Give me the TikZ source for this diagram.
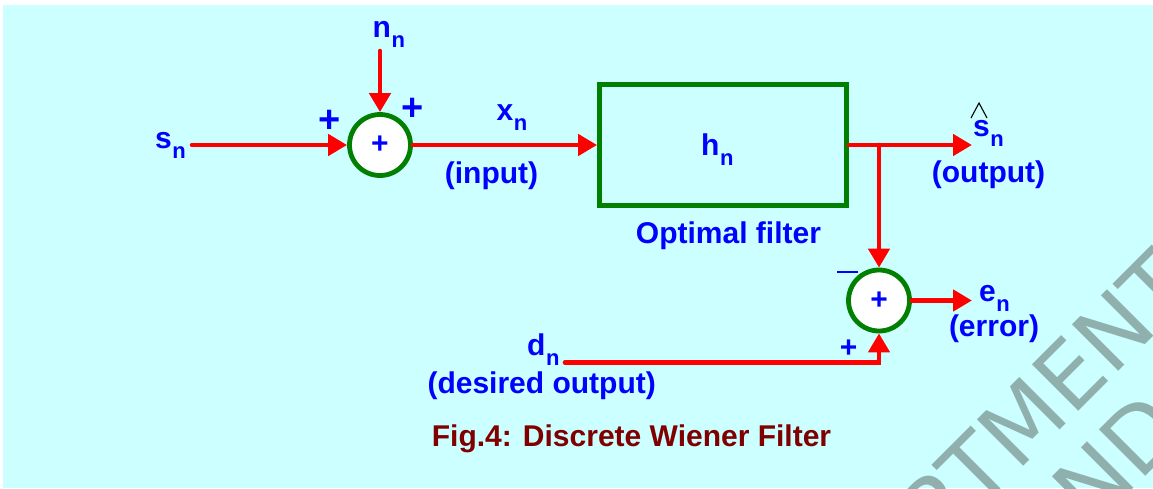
\documentclass[tikz,border=0pt]{standalone}
\usepackage{fontspec}
\setmainfont{Liberation Sans}
\newfontfamily\wmfont{DejaVu Sans}
\usetikzlibrary{arrows.meta}
\definecolor{bg}{HTML}{CCFFFF}
\definecolor{lblue}{HTML}{0000FF}
\definecolor{lred}{HTML}{FF0000}
\definecolor{lgreen}{HTML}{007F00}
\definecolor{capred}{HTML}{800000}
\definecolor{wmcol}{HTML}{90B0AE}
\newcommand\fs[1]{\fontsize{#1}{#1}\selectfont}
\newcommand\subn{\hspace{0.5pt}\raisebox{-10pt}{\fs{22}n}}
\begin{document}
\begin{tikzpicture}[x=1pt,y=-1pt,
  lbl/.style={text=lblue, font=\fs{30}\bfseries, inner sep=0pt, anchor=base},
  lblw/.style={lbl, anchor=base west},
  signode/.style={text=lblue, font=\fs{#1}\bfseries, inner sep=0pt},
  sumnode/.style={circle, draw=lgreen, line width=4.8pt, fill=white, minimum size=61pt, inner sep=0pt, text=lblue, font=\fs{30}\bfseries},
  boxnode/.style={draw=lgreen, line width=4.8pt, minimum width=247pt, minimum height=121pt, inner sep=0pt},
  sig/.style={draw=lred, line width=4.6pt, line cap=round, -{Triangle[length=19pt,width=21pt]}},
  wm/.style={text=wmcol, font=\wmfont\fs{90}, inner sep=0pt, rotate=45}]
\useasboundingbox (0,0) rectangle (1153,488);
\fill[white] (0,0) rectangle (1153,488);
\fill[bg] (3,5) rectangle (1153,488);
% watermark
\begin{scope}
\clip (3,5) rectangle (1153,488);
\node[wm, anchor=base east] (wm1a) at (1072,418) {RTM};
\node[wm, anchor=base west] (wm1b) at (1072,418) {ENT};
\node[wm, anchor=base west] (wm2) at (1092,530) {ND};
\end{scope}
% blocks
\node[sumnode] (s1) at (380,145) {+};
\node[boxnode] (filt) at (723,145) {};
\node[sumnode] (s2) at (879,300.5) {+};
% labels
\node[lblw] (lsn) at (155,148) {s\subn};
\node[lblw] (lnn) at (372.5,37.7) {n\subn};
\node[lblw] (lxn) at (496.5,120.7) {x\subn};
\node[lbl] (linput) at (491.5,183.7) {(input)};
\node[lblw] (lhn) at (701,155) {h\subn};
\node[lbl] (lopt) at (728.5,243.5) {Optimal filter};
\node[lblw] (lshat) at (973,136.7) {s\subn};
\node[lbl] (loutput) at (988.5,182) {(output)};
\node[lblw] (len) at (979,301.7) {e\subn};
\node[lbl] (lerror) at (994,336.7) {(error)};
\node[lblw] (ldn) at (527,355) {d\subn};
\node[lbl] (ldes) at (541.7,393.5) {(desired output)};
\node[lbl, text=capred] (cap) at (631.5,446.5) {Fig.4: Discrete Wiener Filter};
% signs
\node[signode=38] (p1) at (330,121) {+};
\node[signode=38] (p2) at (412.5,109.5) {+};
\node[signode=30] (p3) at (848.5,349) {+};
\coordinate (m1) at (837,272);
\coordinate (m2) at (858,272);
\draw[lblue, line width=2pt] (m1) -- (m2);
% hat
\coordinate (h1) at (971,118);
\coordinate (h2) at (979,103);
\coordinate (h3) at (987,118);
\draw[black, line width=1.1pt] (h1) -- (h2) -- (h3);
% connectors
\coordinate (sstart) at (192,145);
\coordinate (nstart) at (380,51);
\coordinate (outtip) at (972,145);
\coordinate (branch) at (879,145);
\coordinate (etip) at (972,300.5);
\coordinate (dstart) at (565,362.5);
\draw[sig] (sstart) -- (s1.west);
\draw[sig] (nstart) -- (s1.north);
\draw[sig] (s1.east) -- (filt.west);
\draw[sig] (filt.east) -- (outtip);
\draw[sig] (branch) -- (s2.north);
\draw[sig] (s2.east) -- (etip);
\draw[sig] (dstart) -| (s2.south);
\end{tikzpicture}
\end{document}
